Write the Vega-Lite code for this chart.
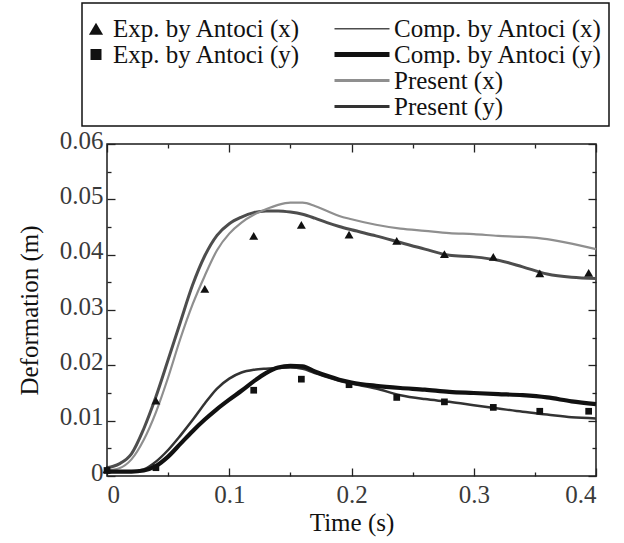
{
  "$schema": "https://vega.github.io/schema/vega-lite/v6.json",
  "width": 489,
  "height": 332,
  "autosize": "none",
  "padding": {"left": 107, "top": 144, "right": 28, "bottom": 67},
  "background": "white",
  "config": {
    "view": {"stroke": "#1a1a1a", "strokeWidth": 1.5},
    "axis": {
      "domain": false, "grid": false, "tickColor": "#222", "tickWidth": 1.3,
      "labelFont": "Liberation Serif", "labelFontSize": 25, "labelColor": "#3a3a3a",
      "titleFont": "Liberation Serif", "titleFontSize": 25, "titleFontWeight": "normal", "titleColor": "#111"
    }
  },
  "datasets": {
    "curves": [
      {"series": "Comp. by Antoci (x)", "t": 0, "v": 0.0015},
      {"series": "Comp. by Antoci (x)", "t": 0.01, "v": 0.0022},
      {"series": "Comp. by Antoci (x)", "t": 0.02, "v": 0.004},
      {"series": "Comp. by Antoci (x)", "t": 0.03, "v": 0.0085},
      {"series": "Comp. by Antoci (x)", "t": 0.04, "v": 0.0143},
      {"series": "Comp. by Antoci (x)", "t": 0.05, "v": 0.021},
      {"series": "Comp. by Antoci (x)", "t": 0.06, "v": 0.0278},
      {"series": "Comp. by Antoci (x)", "t": 0.07, "v": 0.0345},
      {"series": "Comp. by Antoci (x)", "t": 0.08, "v": 0.0398},
      {"series": "Comp. by Antoci (x)", "t": 0.09, "v": 0.0435},
      {"series": "Comp. by Antoci (x)", "t": 0.1, "v": 0.0456},
      {"series": "Comp. by Antoci (x)", "t": 0.11, "v": 0.0468},
      {"series": "Comp. by Antoci (x)", "t": 0.12, "v": 0.0476},
      {"series": "Comp. by Antoci (x)", "t": 0.13, "v": 0.0479},
      {"series": "Comp. by Antoci (x)", "t": 0.14, "v": 0.0479},
      {"series": "Comp. by Antoci (x)", "t": 0.15, "v": 0.0477},
      {"series": "Comp. by Antoci (x)", "t": 0.16, "v": 0.0473},
      {"series": "Comp. by Antoci (x)", "t": 0.17, "v": 0.0466},
      {"series": "Comp. by Antoci (x)", "t": 0.18, "v": 0.0458},
      {"series": "Comp. by Antoci (x)", "t": 0.19, "v": 0.0451},
      {"series": "Comp. by Antoci (x)", "t": 0.2, "v": 0.0445},
      {"series": "Comp. by Antoci (x)", "t": 0.22, "v": 0.0434},
      {"series": "Comp. by Antoci (x)", "t": 0.24, "v": 0.0422},
      {"series": "Comp. by Antoci (x)", "t": 0.26, "v": 0.041},
      {"series": "Comp. by Antoci (x)", "t": 0.28, "v": 0.0399},
      {"series": "Comp. by Antoci (x)", "t": 0.3, "v": 0.0396},
      {"series": "Comp. by Antoci (x)", "t": 0.32, "v": 0.039},
      {"series": "Comp. by Antoci (x)", "t": 0.34, "v": 0.0378},
      {"series": "Comp. by Antoci (x)", "t": 0.36, "v": 0.0365},
      {"series": "Comp. by Antoci (x)", "t": 0.38, "v": 0.0359},
      {"series": "Comp. by Antoci (x)", "t": 0.4, "v": 0.0357},
      {"series": "Present (x)", "t": 0, "v": 0.001},
      {"series": "Present (x)", "t": 0.01, "v": 0.0014},
      {"series": "Present (x)", "t": 0.02, "v": 0.003},
      {"series": "Present (x)", "t": 0.03, "v": 0.0065},
      {"series": "Present (x)", "t": 0.04, "v": 0.0115},
      {"series": "Present (x)", "t": 0.05, "v": 0.0178},
      {"series": "Present (x)", "t": 0.06, "v": 0.0248},
      {"series": "Present (x)", "t": 0.07, "v": 0.031},
      {"series": "Present (x)", "t": 0.08, "v": 0.0362},
      {"series": "Present (x)", "t": 0.09, "v": 0.0408},
      {"series": "Present (x)", "t": 0.1, "v": 0.0438},
      {"series": "Present (x)", "t": 0.11, "v": 0.0458},
      {"series": "Present (x)", "t": 0.12, "v": 0.0472},
      {"series": "Present (x)", "t": 0.13, "v": 0.0482},
      {"series": "Present (x)", "t": 0.14, "v": 0.049},
      {"series": "Present (x)", "t": 0.15, "v": 0.0494},
      {"series": "Present (x)", "t": 0.16, "v": 0.0494},
      {"series": "Present (x)", "t": 0.17, "v": 0.0488},
      {"series": "Present (x)", "t": 0.18, "v": 0.0479},
      {"series": "Present (x)", "t": 0.19, "v": 0.047},
      {"series": "Present (x)", "t": 0.2, "v": 0.0464},
      {"series": "Present (x)", "t": 0.22, "v": 0.0454},
      {"series": "Present (x)", "t": 0.24, "v": 0.0447},
      {"series": "Present (x)", "t": 0.26, "v": 0.0443},
      {"series": "Present (x)", "t": 0.28, "v": 0.0439},
      {"series": "Present (x)", "t": 0.3, "v": 0.0437},
      {"series": "Present (x)", "t": 0.32, "v": 0.0434},
      {"series": "Present (x)", "t": 0.34, "v": 0.0432},
      {"series": "Present (x)", "t": 0.36, "v": 0.0428},
      {"series": "Present (x)", "t": 0.38, "v": 0.042},
      {"series": "Present (x)", "t": 0.4, "v": 0.041},
      {"series": "Comp. by Antoci (y)", "t": 0, "v": 0.0008},
      {"series": "Comp. by Antoci (y)", "t": 0.01, "v": 0.0008},
      {"series": "Comp. by Antoci (y)", "t": 0.02, "v": 0.0008},
      {"series": "Comp. by Antoci (y)", "t": 0.03, "v": 0.001},
      {"series": "Comp. by Antoci (y)", "t": 0.04, "v": 0.0018},
      {"series": "Comp. by Antoci (y)", "t": 0.05, "v": 0.0035},
      {"series": "Comp. by Antoci (y)", "t": 0.06, "v": 0.0058},
      {"series": "Comp. by Antoci (y)", "t": 0.07, "v": 0.0081},
      {"series": "Comp. by Antoci (y)", "t": 0.08, "v": 0.0102},
      {"series": "Comp. by Antoci (y)", "t": 0.09, "v": 0.0121},
      {"series": "Comp. by Antoci (y)", "t": 0.1, "v": 0.0138},
      {"series": "Comp. by Antoci (y)", "t": 0.11, "v": 0.0154},
      {"series": "Comp. by Antoci (y)", "t": 0.12, "v": 0.0171},
      {"series": "Comp. by Antoci (y)", "t": 0.13, "v": 0.0186},
      {"series": "Comp. by Antoci (y)", "t": 0.14, "v": 0.0196},
      {"series": "Comp. by Antoci (y)", "t": 0.15, "v": 0.0199},
      {"series": "Comp. by Antoci (y)", "t": 0.16, "v": 0.0198},
      {"series": "Comp. by Antoci (y)", "t": 0.17, "v": 0.0189},
      {"series": "Comp. by Antoci (y)", "t": 0.18, "v": 0.0181},
      {"series": "Comp. by Antoci (y)", "t": 0.19, "v": 0.0174},
      {"series": "Comp. by Antoci (y)", "t": 0.2, "v": 0.0169},
      {"series": "Comp. by Antoci (y)", "t": 0.22, "v": 0.0163},
      {"series": "Comp. by Antoci (y)", "t": 0.24, "v": 0.0159},
      {"series": "Comp. by Antoci (y)", "t": 0.26, "v": 0.0156},
      {"series": "Comp. by Antoci (y)", "t": 0.28, "v": 0.0152},
      {"series": "Comp. by Antoci (y)", "t": 0.3, "v": 0.015},
      {"series": "Comp. by Antoci (y)", "t": 0.32, "v": 0.0148},
      {"series": "Comp. by Antoci (y)", "t": 0.34, "v": 0.0146},
      {"series": "Comp. by Antoci (y)", "t": 0.36, "v": 0.0142},
      {"series": "Comp. by Antoci (y)", "t": 0.38, "v": 0.0135},
      {"series": "Comp. by Antoci (y)", "t": 0.4, "v": 0.013},
      {"series": "Present (y)", "t": 0, "v": 0.0008},
      {"series": "Present (y)", "t": 0.01, "v": 0.0008},
      {"series": "Present (y)", "t": 0.02, "v": 0.0008},
      {"series": "Present (y)", "t": 0.03, "v": 0.0012},
      {"series": "Present (y)", "t": 0.04, "v": 0.0026},
      {"series": "Present (y)", "t": 0.05, "v": 0.0047},
      {"series": "Present (y)", "t": 0.06, "v": 0.0073},
      {"series": "Present (y)", "t": 0.07, "v": 0.0101},
      {"series": "Present (y)", "t": 0.08, "v": 0.0131},
      {"series": "Present (y)", "t": 0.09, "v": 0.0158},
      {"series": "Present (y)", "t": 0.1, "v": 0.0176},
      {"series": "Present (y)", "t": 0.11, "v": 0.0187},
      {"series": "Present (y)", "t": 0.12, "v": 0.0192},
      {"series": "Present (y)", "t": 0.13, "v": 0.0194},
      {"series": "Present (y)", "t": 0.14, "v": 0.0195},
      {"series": "Present (y)", "t": 0.15, "v": 0.0196},
      {"series": "Present (y)", "t": 0.16, "v": 0.0194},
      {"series": "Present (y)", "t": 0.17, "v": 0.0186},
      {"series": "Present (y)", "t": 0.18, "v": 0.0179},
      {"series": "Present (y)", "t": 0.19, "v": 0.0172},
      {"series": "Present (y)", "t": 0.2, "v": 0.0167},
      {"series": "Present (y)", "t": 0.22, "v": 0.0158},
      {"series": "Present (y)", "t": 0.24, "v": 0.0146},
      {"series": "Present (y)", "t": 0.26, "v": 0.0139},
      {"series": "Present (y)", "t": 0.28, "v": 0.0134},
      {"series": "Present (y)", "t": 0.3, "v": 0.0128},
      {"series": "Present (y)", "t": 0.32, "v": 0.0122},
      {"series": "Present (y)", "t": 0.34, "v": 0.0116},
      {"series": "Present (y)", "t": 0.36, "v": 0.0111},
      {"series": "Present (y)", "t": 0.38, "v": 0.0106},
      {"series": "Present (y)", "t": 0.4, "v": 0.0104}
    ],
    "exp": [
      {"series": "Exp. by Antoci (x)", "t": 0, "v": 0.0012},
      {"series": "Exp. by Antoci (x)", "t": 0.04, "v": 0.0136},
      {"series": "Exp. by Antoci (x)", "t": 0.08, "v": 0.0338},
      {"series": "Exp. by Antoci (x)", "t": 0.12, "v": 0.0434},
      {"series": "Exp. by Antoci (x)", "t": 0.159, "v": 0.0454},
      {"series": "Exp. by Antoci (x)", "t": 0.198, "v": 0.0436},
      {"series": "Exp. by Antoci (x)", "t": 0.237, "v": 0.0425},
      {"series": "Exp. by Antoci (x)", "t": 0.276, "v": 0.0401},
      {"series": "Exp. by Antoci (x)", "t": 0.316, "v": 0.0396},
      {"series": "Exp. by Antoci (x)", "t": 0.354, "v": 0.0366},
      {"series": "Exp. by Antoci (x)", "t": 0.394, "v": 0.0367},
      {"series": "Exp. by Antoci (y)", "t": 0, "v": 0.001},
      {"series": "Exp. by Antoci (y)", "t": 0.04, "v": 0.0015},
      {"series": "Exp. by Antoci (y)", "t": 0.12, "v": 0.0155},
      {"series": "Exp. by Antoci (y)", "t": 0.159, "v": 0.0175},
      {"series": "Exp. by Antoci (y)", "t": 0.198, "v": 0.0165},
      {"series": "Exp. by Antoci (y)", "t": 0.237, "v": 0.0142},
      {"series": "Exp. by Antoci (y)", "t": 0.276, "v": 0.0134},
      {"series": "Exp. by Antoci (y)", "t": 0.316, "v": 0.0124},
      {"series": "Exp. by Antoci (y)", "t": 0.354, "v": 0.0117},
      {"series": "Exp. by Antoci (y)", "t": 0.394, "v": 0.0117}
    ]
  },
  "resolve": {"axis": {"x": "independent", "y": "independent"}},
  "layer": [
    {
      "data": {"name": "curves"},
      "transform": [{"filter": "datum.series === 'Comp. by Antoci (x)'"}],
      "mark": {"type": "line", "strokeWidth": 3, "interpolate": "monotone"},
      "encoding": {
        "x": {"field": "t", "type": "quantitative", "scale": {"domain": [0, 0.4], "nice": false, "zero": false},
              "axis": {"orient": "bottom", "values": [0, 0.1, 0.2, 0.3, 0.4], "tickSize": -8, "labelPadding": 14, "format": "~g", "title": "Time (s)", "titlePadding": 3, "titleFontWeight": "normal"}},
        "y": {"field": "v", "type": "quantitative", "scale": {"domain": [0, 0.06], "nice": false},
              "axis": {"orient": "left", "values": [0, 0.01, 0.02, 0.03, 0.04, 0.05, 0.06], "tickSize": -8, "labelPadding": 12, "labelOffset": -4, "format": "~g", "title": "Deformation (m)", "titlePadding": 17, "titleFontWeight": "normal"}},
        "color": {
          "field": "series", "type": "nominal",
          "scale": {
            "domain": ["Exp. by Antoci (x)", "Exp. by Antoci (y)", " ", "  ", "Comp. by Antoci (x)", "Comp. by Antoci (y)", "Present (x)", "Present (y)"],
            "range": ["#111111", "#111111", "#ffffff", "#ffffff", "#4d4d4d", "#111111", "#8f8f8f", "#333333"]
          },
          "legend": {
            "orient": "none", "legendX": -25, "legendY": -141,
            "title": " ", "titleFontSize": 4, "titlePadding": 3, "titleColor": "#ffffff",
            "columns": 2, "columnPadding": 23, "rowPadding": -1.5, "padding": 6,
            "strokeColor": "#111111",
            "labelFont": "Liberation Serif", "labelFontSize": 25, "labelColor": "#111111", "labelLimit": 400,
            "symbolSize": 121,
            "encode": {
              "legend": {"update": {"strokeWidth": {"value": 1.5}}},
              "symbols": {"update": {
                "shape": {"signal": "datum.value === 'Exp. by Antoci (x)' ? 'triangle-up' : datum.value === 'Exp. by Antoci (y)' ? 'square' : 'M-5,0H5'"},
                "size": {"signal": "datum.value === 'Exp. by Antoci (x)' ? 200 : 121"},
                "fill": {"signal": "(datum.value === 'Exp. by Antoci (x)' || datum.value === 'Exp. by Antoci (y)') ? '#111111' : 'transparent'"},
                "stroke": {"signal": "datum.value === 'Present (x)' ? '#8f8f8f' : datum.value === 'Present (y)' ? '#3a3a3a' : (datum.value === 'Comp. by Antoci (x)' || datum.value === 'Comp. by Antoci (y)') ? '#111111' : 'transparent'"},
                "strokeWidth": {"signal": "datum.value === 'Comp. by Antoci (y)' ? 5 : datum.value === 'Comp. by Antoci (x)' ? 1.3 : (datum.value === 'Present (x)' || datum.value === 'Present (y)') ? 3 : 0"},
                "opacity": {"signal": "(datum.value === ' ' || datum.value === '  ') ? 0 : 1"},
                "x": {"signal": "(datum.value === 'Exp. by Antoci (x)' || datum.value === 'Exp. by Antoci (y)') ? 8 : 28"}
              }},
              "labels": {"update": {
                "x": {"signal": "(datum.value === 'Exp. by Antoci (x)' || datum.value === 'Exp. by Antoci (y)') ? 25 : 60"}
              }}
            }
          }
        }
      }
    },
    {
      "data": {"name": "curves"},
      "transform": [{"filter": "datum.series === 'Present (x)'"}],
      "mark": {"type": "line", "strokeWidth": 2.2, "interpolate": "monotone"},
      "encoding": {
        "x": {"field": "t", "type": "quantitative", "scale": {"domain": [0, 0.4], "nice": false, "zero": false},
              "axis": {"orient": "top", "values": [0, 0.1, 0.2, 0.3, 0.4], "tickSize": -8, "labels": false, "title": null}},
        "y": {"field": "v", "type": "quantitative", "scale": {"domain": [0, 0.06], "nice": false},
              "axis": {"orient": "right", "values": [0, 0.01, 0.02, 0.03, 0.04, 0.05, 0.06], "tickSize": -8, "labels": false, "title": null}},
        "color": {"field": "series", "type": "nominal", "legend": null}
      }
    },
    {
      "data": {"name": "curves"},
      "transform": [{"filter": "datum.series === 'Present (y)'"}],
      "mark": {"type": "line", "strokeWidth": 2.5, "interpolate": "monotone"},
      "encoding": {
        "x": {"field": "t", "type": "quantitative", "scale": {"domain": [0, 0.4], "nice": false, "zero": false},
              "axis": {"orient": "bottom", "values": [0.05, 0.15, 0.25, 0.35], "tickSize": -4, "labels": false, "title": null}},
        "y": {"field": "v", "type": "quantitative", "scale": {"domain": [0, 0.06], "nice": false},
              "axis": {"orient": "left", "values": [0.005, 0.015, 0.025, 0.035, 0.045, 0.055], "tickSize": -4, "labels": false, "title": null}},
        "color": {"field": "series", "type": "nominal", "legend": null}
      }
    },
    {
      "data": {"name": "curves"},
      "transform": [{"filter": "datum.series === 'Comp. by Antoci (y)'"}],
      "mark": {"type": "line", "strokeWidth": 4.2, "interpolate": "monotone"},
      "encoding": {
        "x": {"field": "t", "type": "quantitative", "scale": {"domain": [0, 0.4], "nice": false, "zero": false},
              "axis": {"orient": "top", "values": [0.05, 0.15, 0.25, 0.35], "tickSize": -4, "labels": false, "title": null}},
        "y": {"field": "v", "type": "quantitative", "scale": {"domain": [0, 0.06], "nice": false},
              "axis": {"orient": "right", "values": [0.005, 0.015, 0.025, 0.035, 0.045, 0.055], "tickSize": -4, "labels": false, "title": null}},
        "color": {"field": "series", "type": "nominal", "legend": null}
      }
    },
    {
      "data": {"name": "exp"},
      "transform": [{"filter": "datum.series === 'Exp. by Antoci (x)'"}],
      "mark": {"type": "point", "shape": "triangle-up", "filled": true, "size": 80, "opacity": 1},
      "encoding": {
        "x": {"field": "t", "type": "quantitative", "axis": null},
        "y": {"field": "v", "type": "quantitative", "axis": null},
        "color": {"field": "series", "type": "nominal", "legend": null}
      }
    },
    {
      "data": {"name": "exp"},
      "transform": [{"filter": "datum.series === 'Exp. by Antoci (y)'"}],
      "mark": {"type": "point", "shape": "square", "filled": true, "size": 45, "opacity": 1},
      "encoding": {
        "x": {"field": "t", "type": "quantitative", "axis": null},
        "y": {"field": "v", "type": "quantitative", "axis": null},
        "color": {"field": "series", "type": "nominal", "legend": null}
      }
    }
  ]
}
